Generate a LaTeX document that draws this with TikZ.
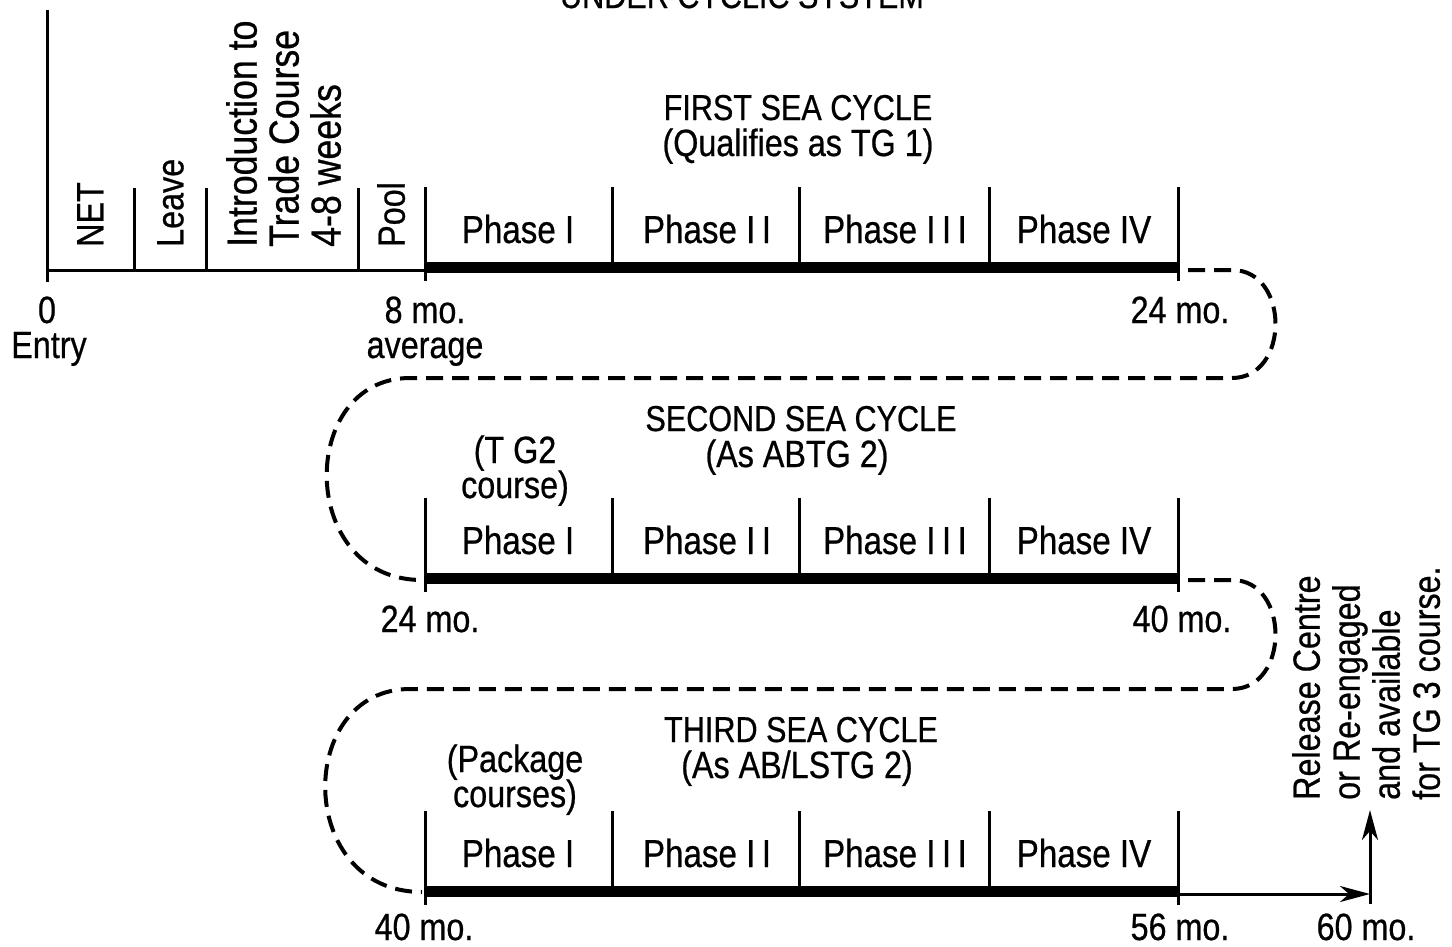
\documentclass[tikz,border=0pt]{standalone}
\usepackage{fontspec}
\setmainfont{Liberation Sans}[FakeStretch=0.85, FakeBold=0.6]
\usetikzlibrary{arrows.meta}

\begin{document}
\begin{tikzpicture}[x=1pt, y=-1pt,
    txt/.style={font=\fontsize{38}{42}\selectfont, inner sep=0pt, anchor=base},
    headtxt/.style={txt, font=\fontsize{36}{42}\selectfont},
    phtxt/.style={txt, font=\fontsize{39}{42}\selectfont},
    vtxt/.style={txt, rotate=90, anchor=north west, align=left},
    thinline/.style={line width=3pt},
    thickbar/.style={line width=11pt},
    sealoop/.style={line width=4pt, dash pattern=on 17pt off 9pt},
    tip/.style={-{Stealth[length=30pt, width=16pt, inset=9pt]}, line width=3pt}]

  \useasboundingbox (0,0) rectangle (1452,946);

  % title, cut off at the top of the page
  \node[headtxt] (title) at (742,8) {UNDER CYCLIC SYSTEM};

  % time ashore before the first sea cycle
  \draw[thinline] (47,10) -- (47,282);
  \draw[thinline] (47,270) -- (425,270);
  \foreach \x in {134,206,358}
    \draw[thinline] (\x,188) -- (\x,270);
  \node[vtxt] (net) at (77,247) {NET};
  \node[vtxt] (leave) at (157,247) {Leave};
  \node[vtxt, font=\fontsize{42}{42}\selectfont] (intro) at (226,247) {Introduction to\\Trade Course\\4-8 weeks};
  \node[vtxt] (pool) at (377,247) {Pool};
  \node[txt] (zero) at (47,323) {0};
  \node[txt] (entry) at (49,358) {Entry};
  \node[txt] (eight) at (425,323) {8 mo.};
  \node[txt] (avg) at (425,358) {average};

  % the three sea cycles
  \foreach \r/\y in {1/267, 2/578, 3/891} {
    \draw[thickbar] (425,\y) -- (1178,\y);
    \foreach \x in {612,799,989}
      \draw[thinline] (\x,\y-80) -- (\x,\y+3);
    \draw[thinline] (425,\y-80) -- (425,\y+14);
    \draw[thinline] (1178,\y-80) -- (1178,\y+14);
    \foreach \n/\x/\ph in {1/518/I, 2/707/I\,I, 3/895/I\,I\,I, 4/1084/IV}
      \node[phtxt] (ph\r\n) at (\x,\y-24) {Phase \ph};
  }

  \node[headtxt] (head1) at (798,120) {FIRST SEA CYCLE};
  \node[txt] (head1b) at (798,156) {(Qualifies as TG 1)};
  \node[txt] (mo24a) at (1180,323) {24 mo.};

  \node[headtxt] (head2) at (801,431) {SECOND SEA CYCLE};
  \node[txt] (head2b) at (797,467) {(As ABTG 2)};
  \node[txt] (sub2) at (515,463) {(T G2};
  \node[txt] (sub2b) at (515,498) {course)};
  \node[txt] (mo24b) at (430,632) {24 mo.};
  \node[txt] (mo40a) at (1182,632) {40 mo.};

  \node[headtxt] (head3) at (801,742) {THIRD SEA CYCLE};
  \node[txt] (head3b) at (797,778) {(As AB/LSTG 2)};
  \node[txt] (sub3) at (515,772) {(Package};
  \node[txt] (sub3b) at (515,807) {courses)};
  \node[txt] (mo40b) at (424,940) {40 mo.};
  \node[txt] (mo56) at (1180,940) {56 mo.};
  \node[txt] (mo60) at (1366,940) {60 mo.};

  % dashed turns from one cycle to the next
  \coordinate (end1) at (1188,270);
  \coordinate (start2) at (422,580);
  \coordinate (end2) at (1188,580);
  \coordinate (start3) at (422,892);
  \draw[sealoop] (end1) -- (1232,270) .. controls (1290,270) and (1290,378) .. (1232,378)
    -- (410,378) .. controls (297,378) and (297,580) .. (start2);
  \draw[sealoop] (end2) -- (1232,580) .. controls (1290,580) and (1290,689) .. (1232,689)
    -- (410,689) .. controls (295,689) and (295,892) .. (start3);

  % end of the third cycle
  \coordinate (end3) at (1178,894);
  \coordinate (m60) at (1370,894);
  \coordinate (foot) at (1370,904);
  \coordinate (out) at (1370,810);
  \draw[tip] (end3) -- (m60);
  \draw[tip] (foot) -- (out);
  \node[vtxt, font=\fontsize{38}{40}\selectfont] (release) at (1292,800) {Release Centre\\or Re-engaged\\and available\\for TG 3 course.};
\end{tikzpicture}
\end{document}
